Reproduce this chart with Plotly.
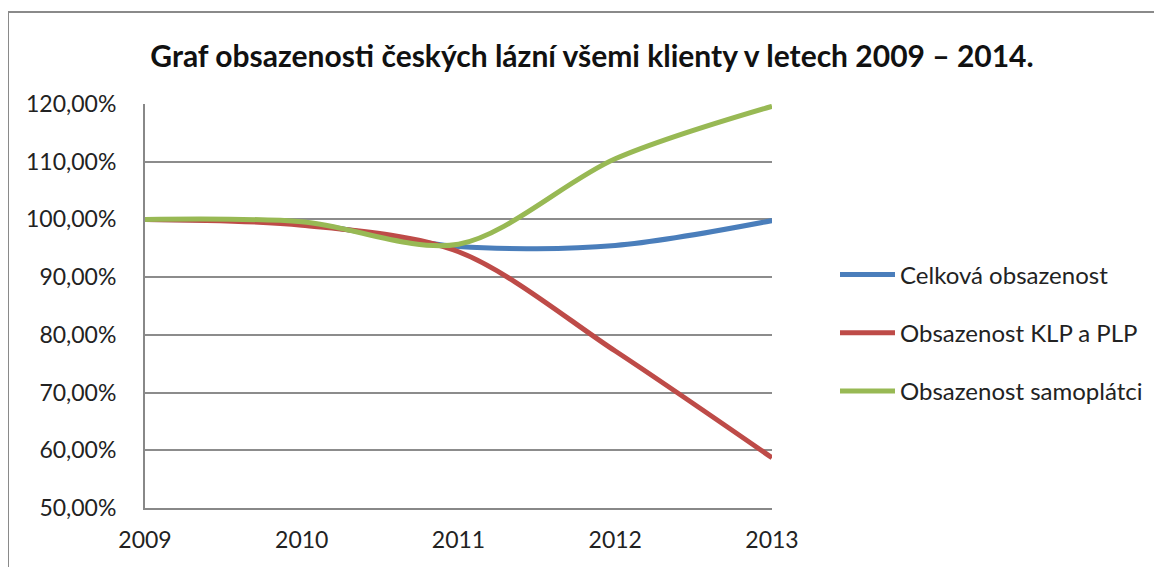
import plotly.graph_objects as go

years = [2009, 2010, 2011, 2012, 2013]
celkova = [100.0, 99.3, 95.3, 95.5, 99.8]
klp_plp = [100.0, 99.0, 94.4, 77.2, 58.7]
samoplatci = [100.0, 99.6, 95.7, 110.5, 119.6]
y_ticks = [50, 60, 70, 80, 90, 100, 110, 120]
y_labels = ["50,00%", "60,00%", "70,00%", "80,00%", "90,00%", "100,00%", "110,00%", "120,00%"]

names = ["Celková obsazenost", "Obsazenost KLP a PLP", "Obsazenost samoplátci"]
colors = ["#4A7EBB", "#BE4B48", "#98B954"]
series = [celkova, klp_plp, samoplatci]

FONT = "Lato"

fig = go.Figure()
for i, (nm, col, vals) in enumerate(zip(names, colors, series)):
    fig.add_trace(go.Scatter(
        x=years, y=vals, name=nm, mode="lines",
        line=dict(color=col, width=5, shape="spline", smoothing=0.9),
        legendgroup=f"g{i}",
    ))

# page has an 8px body margin; lay out in page coordinates minus 8
OFF = 8
W, H = 1162 - OFF, 567 - OFF
L = 145 - OFF
T = 104 - OFF
R = W - (772 - OFF)
B = H - (508 - OFF)
pw = W - L - R
ph = H - T - B


def px_x(x):
    return (x - OFF - L) / pw


def px_y(y):
    return (H - B - (y - OFF)) / ph


fig.update_layout(
    width=W, height=H,
    margin=dict(l=L, r=R, t=T, b=B),
    paper_bgcolor="white", plot_bgcolor="white",
    font=dict(family=FONT, size=23, color="#222222"),
    title=dict(
        text="<b>Graf obsazenosti českých lázní všemi klienty v letech 2009 – 2014.</b>",
        x=(592 - OFF) / W, xanchor="center", y=1 - (56 - OFF) / H, yanchor="middle",
        font=dict(family=FONT, size=30, color="#111111"),
    ),
    xaxis=dict(
        range=[2009, 2013], tickvals=years, ticktext=[str(y) for y in years],
        showgrid=False, zeroline=False, showline=True, linecolor="#888888", linewidth=2,
        ticks="", ticklabelstandoff=10, fixedrange=True,
    ),
    yaxis=dict(
        range=[50, 120], tickvals=y_ticks, ticktext=y_labels,
        showgrid=True, gridcolor="#8c8c8c", gridwidth=2,
        zeroline=False, showline=True, linecolor="#888888", linewidth=2,
        ticks="", ticklabelstandoff=22,
    ),
    legend=dict(
        x=px_x(835), xanchor="left", y=px_y(333), yanchor="middle",
        font=dict(family=FONT, size=24, color="#222222"),
        traceorder="grouped", tracegroupgap=24, itemwidth=55,
        bgcolor="rgba(0,0,0,0)",
    ),
    showlegend=True,
)

# outer chart border (partially cropped in the reference)
fig.add_shape(type="line", xref="paper", yref="paper",
              x0=px_x(8), x1=px_x(1200), y0=px_y(12), y1=px_y(12),
              line=dict(color="#8a8a8a", width=2))
fig.add_shape(type="line", xref="paper", yref="paper",
              x0=px_x(8), x1=px_x(8), y0=px_y(12), y1=px_y(600),
              line=dict(color="#8a8a8a", width=2))

fig.write_html("out.html")
